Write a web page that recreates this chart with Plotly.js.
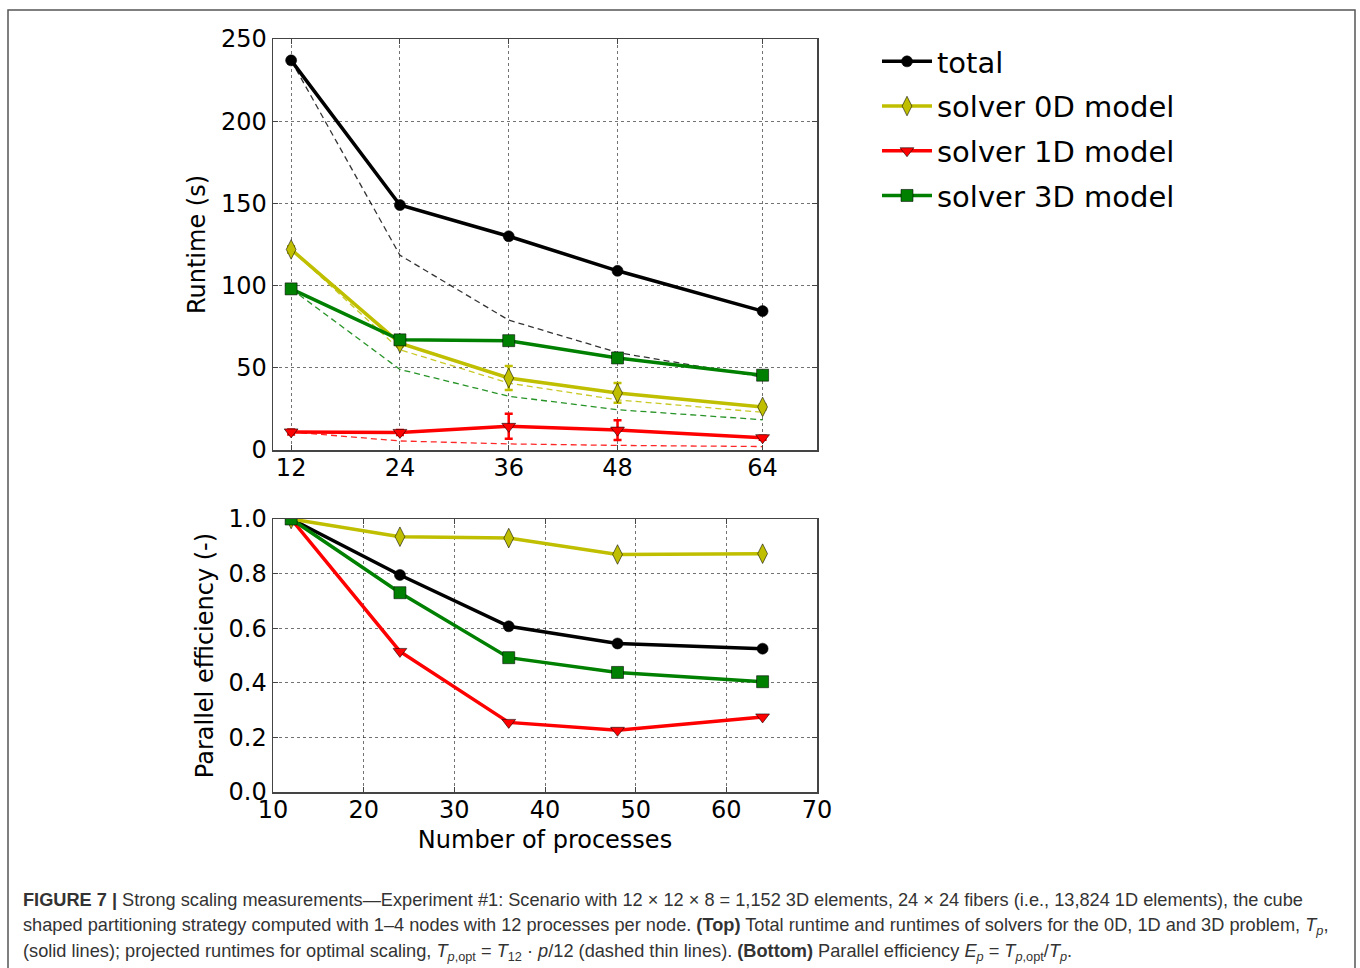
<!DOCTYPE html>
<html>
<head>
<meta charset="utf-8">
<script src="https://cdn.plot.ly/plotly-3.0.1.min.js"></script>
<style>
  html, body { margin: 0; padding: 0; background: #fff; }
  #chart { width: 1360px; height: 968px; }
</style>
</head>
<body>
<div id="chart"></div>
<script>
// ---- data ----
const processes = [12, 24, 36, 48, 64];

const runtimeTotal = [237, 149, 130, 109, 84.5];
const runtime0D    = [122, 65, 43.8, 34.7, 26.2];
const runtime1D    = [11, 10.7, 14.4, 12.1, 7.5];
const runtime3D    = [98, 67, 66.5, 56, 45.5];

const errTotal = [0, 0, 0, 0, 0];
const err0D    = [2, 2, 7.3, 6, 1.5];
const err1D    = [1.5, 1.5, 7.6, 6, 1.2];
const err3D    = [1, 1, 1, 1, 1];

const idealTotal = [237, 118.5, 79, 59.3, 44.4];
const ideal0D    = [122, 61, 40.7, 30.5, 22.9];
const ideal1D    = [11, 5.5, 3.7, 2.8, 2.1];
const ideal3D    = [98, 49, 32.7, 24.5, 18.4];

const effTotal = [1, 0.795, 0.607, 0.544, 0.525];
const eff0D    = [1, 0.935, 0.93, 0.87, 0.873];
const eff1D    = [1, 0.515, 0.255, 0.226, 0.275];
const eff3D    = [1, 0.73, 0.492, 0.438, 0.404];

const seriesNames = ['total', 'solver 0D model', 'solver 1D model', 'solver 3D model'];
const topTickVals = [12, 24, 36, 48, 64];

// ---- styling ----
const colors  = ['#000000', '#bfbf00', '#ff0000', '#008000'];
const symbols = ['circle', 'diamond-tall', 'triangle-down', 'square'];
const msizes  = [11, 14, 12, 12];

const runtimes = [runtimeTotal, runtime0D, runtime1D, runtime3D];
const errs = [errTotal, err0D, err1D, err3D];
const ideals = [idealTotal, ideal0D, ideal1D, ideal3D];
const effs = [effTotal, eff0D, eff1D, eff3D];

const traces = [];
// dashed projected runtimes (top)
ideals.forEach((arr, i) => {
  traces.push({
    x: processes, y: arr, xaxis: 'x', yaxis: 'y', mode: 'lines',
    line: {color: colors[i], width: 1.3, dash: '6px,4px'},
    opacity: i === 0 ? 0.8 : 0.85,
    showlegend: false, hoverinfo: 'skip'
  });
});
// solid runtimes (top)
runtimes.forEach((arr, i) => {
  traces.push({
    x: processes, y: arr, xaxis: 'x', yaxis: 'y', mode: 'lines+markers',
    name: seriesNames[i],
    line: {color: colors[i], width: 3.5},
    marker: {symbol: symbols[i], size: msizes[i], color: colors[i],
             line: {color: 'rgba(0,0,0,0.7)', width: 0.8}},
    error_y: {type: 'data', array: errs[i], visible: true,
              color: colors[i], thickness: 2.5, width: 4},
    showlegend: true, legendgroup: 'g' + i
  });
});
// efficiency (bottom)
effs.forEach((arr, i) => {
  traces.push({
    x: processes, y: arr, xaxis: 'x2', yaxis: 'y2', mode: 'lines+markers',
    name: seriesNames[i],
    line: {color: colors[i], width: 3.5},
    marker: {symbol: symbols[i], size: msizes[i], color: colors[i],
             line: {color: 'rgba(0,0,0,0.7)', width: 0.8}},
    showlegend: false, legendgroup: 'g' + i
  });
});

const W = 1360, H = 968;
const px = v => v / W;
const py = v => 1 - v / H;

const tickFont = {family: 'DejaVu Sans', size: 24, color: '#000'};
const titleFont = {family: 'DejaVu Sans', size: 24, color: '#000'};
const axisCommon = {
  showline: true, linecolor: '#444', linewidth: 1.5, mirror: 'ticks',
  ticks: 'inside', ticklen: 5, tickcolor: '#444', tickwidth: 1,
  showgrid: true, gridcolor: 'rgba(0,0,0,0.55)', griddash: 'dot', gridwidth: 1,
  zeroline: false, tickfont: tickFont
};

const capFont = {family: 'Liberation Sans', size: 18.2, color: '#333'};
const capLines = [
  '<b>FIGURE 7 |</b> Strong scaling measurements\u2014Experiment #1: Scenario with 12 \u00d7 12 \u00d7 8 = 1,152 3D elements, 24 \u00d7 24 fibers (i.e., 13,824 1D elements), the cube',
  'shaped partitioning strategy computed with 1\u20134 nodes with 12 processes per node. <b>(Top)</b> Total runtime and runtimes of solvers for the 0D, 1D and 3D problem, <i>T</i><sub><i>p</i></sub>,',
  '(solid lines); projected runtimes for optimal scaling, <i>T</i><sub><i>p</i>,opt</sub> = <i>T</i><sub>12</sub> \u00b7 <i>p</i>/12 (dashed thin lines). <b>(Bottom)</b> Parallel efficiency <i>E</i><sub><i>p</i></sub> = <i>T</i><sub><i>p</i>,opt</sub>/<i>T</i><sub><i>p</i></sub>.'
];
const capY = [900, 926, 952];

const annotations = capLines.map((t, k) => ({
  text: t, xref: 'paper', yref: 'paper', x: px(21), y: py(capY[k]),
  xanchor: 'left', yanchor: 'middle', showarrow: false, align: 'left', font: capFont
}));

const layout = {
  width: W, height: H,
  margin: {l: 0, r: 0, t: 0, b: 0},
  paper_bgcolor: '#fff', plot_bgcolor: '#fff',
  showlegend: true,
  legend: {
    x: px(877), y: py(36), xanchor: 'left', yanchor: 'top',
    font: {family: 'DejaVu Sans', size: 29, color: '#000'},
    bgcolor: 'rgba(0,0,0,0)', borderwidth: 0, itemwidth: 50, tracegroupgap: 4
  },
  xaxis: Object.assign({}, axisCommon, {
    domain: [px(273), px(817)], anchor: 'y', range: [10, 70],
    tickmode: 'array', tickvals: topTickVals, ticktext: topTickVals.map(String),
    ticklabelstandoff: -4
  }),
  yaxis: Object.assign({}, axisCommon, {
    domain: [py(450), py(39)], anchor: 'x', range: [0, 250], dtick: 50,
    title: {text: 'Runtime (s)', font: titleFont, standoff: 8}
  }),
  xaxis2: Object.assign({}, axisCommon, {
    domain: [px(273), px(817)], anchor: 'y2', range: [10, 70], dtick: 10,
    ticklabelstandoff: -4,
    title: {text: 'Number of processes', font: titleFont, standoff: 8}
  }),
  yaxis2: Object.assign({}, axisCommon, {
    domain: [py(792), py(519)], anchor: 'x2', range: [0, 1], dtick: 0.2, tickformat: '.1f',
    title: {text: 'Parallel efficiency (-)', font: titleFont, standoff: 8}
  }),
  shapes: [{
    type: 'rect', xref: 'paper', yref: 'paper',
    x0: px(8), x1: px(1355), y0: -0.01, y1: py(10),
    line: {color: '#555', width: 1.5}, fillcolor: 'rgba(0,0,0,0)', layer: 'below'
  }],
  annotations: annotations
};

Plotly.newPlot('chart', traces, layout, {staticPlot: true, displayModeBar: false});
</script>
</body>
</html>
